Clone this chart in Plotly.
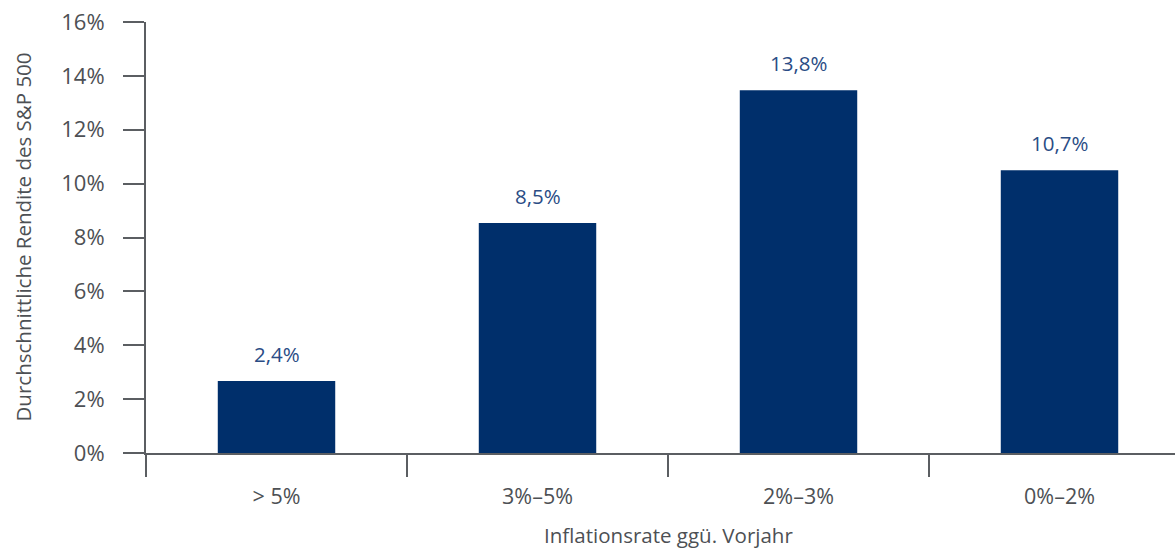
import plotly.graph_objects as go

categories = ["> 5%", "3%–5%", "2%–3%", "0%–2%"]
bar_values = [2.67, 8.54, 13.47, 10.5]
value_labels = ["2,4%", "8,5%", "13,8%", "10,7%"]
y_ticks = [0, 2, 4, 6, 8, 10, 12, 14, 16]
y_tick_labels = [f"{v}%" for v in y_ticks]

FONT = "Open Sans"
GRAY = "#4d5054"
AXIS = "#5b5e62"
BAR = "#002f6b"
LABEL = "#2a4c85"

fig = go.Figure()
fig.add_trace(go.Bar(
    x=categories,
    y=bar_values,
    width=0.45,
    marker=dict(color=BAR, line=dict(width=0)),
    hoverinfo="skip",
))

for c, v, t in zip(categories, bar_values, value_labels):
    fig.add_annotation(x=c, y=v, xref="x", yref="y", text=t, showarrow=False,
                       yanchor="bottom", yshift=11,
                       font=dict(family=FONT, size=20.5, color=LABEL))

fig.add_annotation(x=1.5, xref="x", y=0, yref="paper", yshift=-82,
                   text="Inflationsrate ggü. Vorjahr", showarrow=False,
                   yanchor="middle", font=dict(family=FONT, size=20.5, color=GRAY))

fig.add_annotation(x=0, xref="paper", xshift=-124, y=0.5, yref="paper",
                   text="Durchschnittliche Rendite des S&P 500", showarrow=False,
                   textangle=-90, xanchor="center", yanchor="middle",
                   font=dict(family=FONT, size=20.5, color=GRAY))

fig.update_layout(
    width=1175, height=548,
    margin=dict(l=146, r=0, t=22, b=95),
    plot_bgcolor="white", paper_bgcolor="white",
    showlegend=False,
    xaxis=dict(
        type="category",
        range=[-0.5, -0.5 + (1175 - 146) / 261],
        tickson="boundaries",
        showgrid=False, zeroline=False,
        showline=True, linecolor=AXIS, linewidth=2,
        ticks="outside", ticklen=22, tickwidth=2, tickcolor=AXIS,
        tickfont=dict(family=FONT, size=21.5, color=GRAY),
        ticklabelstandoff=23,
        fixedrange=True,
    ),
    yaxis=dict(
        range=[0, 16],
        tickmode="array",
        tickvals=y_ticks,
        ticktext=y_tick_labels,
        showgrid=False, zeroline=False,
        showline=True, linecolor=AXIS, linewidth=2,
        ticks="outside", ticklen=21, tickwidth=2, tickcolor=AXIS,
        tickfont=dict(family=FONT, size=22, color=GRAY),
        ticklabelstandoff=14,
        fixedrange=True,
    ),
)

fig.write_html("out.html")
